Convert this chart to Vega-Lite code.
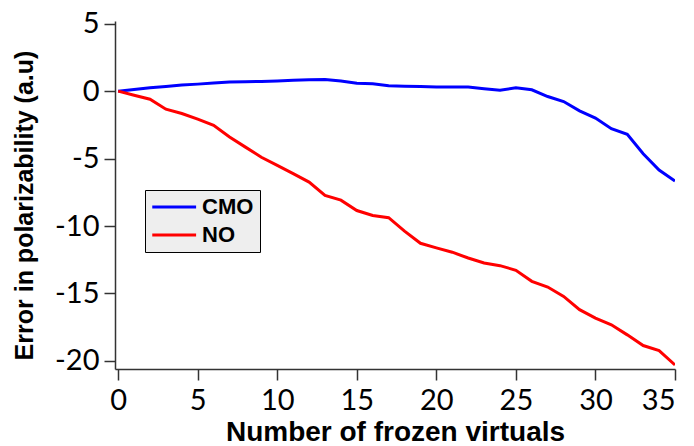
{
  "$schema": "https://vega.github.io/schema/vega-lite/v6.json",
  "width": 560,
  "height": 348,
  "autosize": "none",
  "padding": {"left": 115, "top": 21, "right": 19, "bottom": 77},
  "background": "white",
  "config": {"view": {"stroke": null}},
  "data": {"values": [
    {"n":0,"s":"CMO","v":0},{"n":1,"s":"CMO","v":0.12},{"n":2,"s":"CMO","v":0.25},{"n":3,"s":"CMO","v":0.35},{"n":4,"s":"CMO","v":0.45},{"n":5,"s":"CMO","v":0.52},{"n":6,"s":"CMO","v":0.6},{"n":7,"s":"CMO","v":0.68},{"n":8,"s":"CMO","v":0.7},{"n":9,"s":"CMO","v":0.72},{"n":10,"s":"CMO","v":0.75},{"n":11,"s":"CMO","v":0.8},{"n":12,"s":"CMO","v":0.85},{"n":13,"s":"CMO","v":0.87},{"n":14,"s":"CMO","v":0.75},{"n":15,"s":"CMO","v":0.58},{"n":16,"s":"CMO","v":0.55},{"n":17,"s":"CMO","v":0.4},{"n":18,"s":"CMO","v":0.37},{"n":19,"s":"CMO","v":0.34},{"n":20,"s":"CMO","v":0.31},{"n":21,"s":"CMO","v":0.3},{"n":22,"s":"CMO","v":0.3},{"n":23,"s":"CMO","v":0.18},{"n":24,"s":"CMO","v":0.07},{"n":25,"s":"CMO","v":0.25},{"n":26,"s":"CMO","v":0.1},{"n":27,"s":"CMO","v":-0.4},{"n":28,"s":"CMO","v":-0.77},{"n":29,"s":"CMO","v":-1.46},{"n":30,"s":"CMO","v":-2.0},{"n":31,"s":"CMO","v":-2.78},{"n":32,"s":"CMO","v":-3.2},{"n":33,"s":"CMO","v":-4.64},{"n":34,"s":"CMO","v":-5.85},{"n":35,"s":"CMO","v":-6.67},
    {"n":0,"s":"NO","v":0},{"n":1,"s":"NO","v":-0.3},{"n":2,"s":"NO","v":-0.6},{"n":3,"s":"NO","v":-1.34},{"n":4,"s":"NO","v":-1.66},{"n":5,"s":"NO","v":-2.08},{"n":6,"s":"NO","v":-2.53},{"n":7,"s":"NO","v":-3.4},{"n":8,"s":"NO","v":-4.15},{"n":9,"s":"NO","v":-4.9},{"n":10,"s":"NO","v":-5.5},{"n":11,"s":"NO","v":-6.12},{"n":12,"s":"NO","v":-6.74},{"n":13,"s":"NO","v":-7.73},{"n":14,"s":"NO","v":-8.08},{"n":15,"s":"NO","v":-8.85},{"n":16,"s":"NO","v":-9.22},{"n":17,"s":"NO","v":-9.38},{"n":18,"s":"NO","v":-10.38},{"n":19,"s":"NO","v":-11.28},{"n":20,"s":"NO","v":-11.62},{"n":21,"s":"NO","v":-11.94},{"n":22,"s":"NO","v":-12.37},{"n":23,"s":"NO","v":-12.74},{"n":24,"s":"NO","v":-12.94},{"n":25,"s":"NO","v":-13.28},{"n":26,"s":"NO","v":-14.1},{"n":27,"s":"NO","v":-14.52},{"n":28,"s":"NO","v":-15.22},{"n":29,"s":"NO","v":-16.2},{"n":30,"s":"NO","v":-16.83},{"n":31,"s":"NO","v":-17.32},{"n":32,"s":"NO","v":-18.07},{"n":33,"s":"NO","v":-18.86},{"n":34,"s":"NO","v":-19.23},{"n":35,"s":"NO","v":-20.3}
  ]},
  "mark": {"type": "line", "strokeWidth": 3, "clip": true},
  "encoding": {
    "x": {"field": "n", "type": "quantitative",
      "scale": {"domain": [-0.2, 35], "nice": false, "zero": false},
      "axis": {"values": [0,5,10,15,20,25,30,35], "grid": false, "title": "Number of frozen virtuals",
        "domainColor": "#333", "domainWidth": 1.5, "tickColor": "#333", "tickWidth": 1.5, "tickSize": 11,
        "labelFont": "Lato", "labelFontSize": 29, "labelColor": "black", "labelPadding": 6,
        "titleFont": "Liberation Sans", "titleFontSize": 28, "titleFontWeight": "bold", "titleColor": "black", "titlePadding": 3}},
    "y": {"field": "v", "type": "quantitative",
      "scale": {"domain": [-20.6, 5.2], "nice": false, "zero": false},
      "axis": {"values": [-20,-15,-10,-5,0,5], "grid": false, "title": "Error in polarizability (a.u)",
        "labelExpr": "replace(datum.label, '−', '-')",
        "domainColor": "#333", "domainWidth": 1.5, "tickColor": "#333", "tickWidth": 1.5, "tickSize": 11,
        "labelFont": "Lato", "labelFontSize": 29, "labelColor": "black", "labelPadding": 5,
        "titleFont": "Liberation Sans", "titleFontSize": 25, "titleFontWeight": "bold", "titleColor": "black", "titlePadding": 17, "titleY": 184}},
    "color": {"field": "s", "type": "nominal",
      "scale": {"domain": ["CMO", "NO"], "range": ["#0000ff", "#ff0000"]},
      "legend": {"title": null, "orient": "none", "legendX": 30, "legendY": 169,
        "symbolType": "M-1.77,0H6.2", "symbolSize": 121, "symbolStrokeWidth": 3, "symbolStrokeColor": null,
        "labelFont": "Liberation Sans", "labelFontSize": 22, "labelFontWeight": "bold", "labelColor": "black",
        "labelOffset": 29, "rowPadding": 6, "padding": 6,
        "fillColor": "#eeeeee", "strokeColor": "black"}}
  }
}
